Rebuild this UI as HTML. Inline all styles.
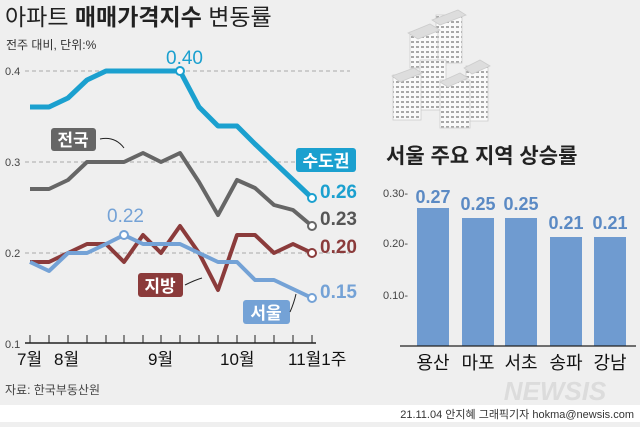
<!DOCTYPE html>
<html><head><meta charset="utf-8"><style>
html,body{margin:0;padding:0;background:#efefef;}
body{width:640px;height:422px;overflow:hidden;font-family:"Liberation Sans","Noto Sans CJK KR",sans-serif;}
</style></head><body>
<svg width="640" height="422" viewBox="0 0 640 422" xmlns="http://www.w3.org/2000/svg" font-family="Liberation Sans, Noto Sans CJK KR, sans-serif">
<defs>
<pattern id="win" width="5" height="5" patternUnits="userSpaceOnUse"><rect width="5" height="5" fill="#fafafa"/><rect x="1" y="1" width="3" height="2" fill="#a8a8a8"/></pattern>
</defs>
<rect width="640" height="422" fill="#efefef"/>
<rect y="405" width="640" height="17" fill="#ffffff"/>
<!-- title -->
<text x="5" y="25" font-size="23" fill="#222"><tspan>아파트 </tspan><tspan font-weight="bold">매매가격지수</tspan><tspan> 변동률</tspan></text>
<text x="6" y="49" font-size="12" fill="#333">전주 대비, 단위:%</text>
<!-- grid -->
<g stroke="#aaa" stroke-dasharray="4,3" stroke-width="1">
<line x1="25" y1="71" x2="350" y2="71"/><line x1="25" y1="162" x2="350" y2="162"/><line x1="25" y1="253" x2="350" y2="253"/>
</g>
<g font-size="11" fill="#444"><text x="5" y="75">0.4</text><text x="5" y="166">0.3</text><text x="5" y="257">0.2</text><text x="5" y="348">0.1</text></g>
<!-- x axis -->
<line x1="25" y1="343" x2="316" y2="343" stroke="#222" stroke-width="1.5"/>
<g stroke="#222" stroke-width="1">
<line x1="30" y1="335" x2="30" y2="343"/><line x1="49" y1="335" x2="49" y2="343"/><line x1="68" y1="335" x2="68" y2="343"/><line x1="87" y1="335" x2="87" y2="343"/><line x1="106" y1="335" x2="106" y2="343"/><line x1="124" y1="335" x2="124" y2="343"/><line x1="143" y1="335" x2="143" y2="343"/><line x1="161" y1="335" x2="161" y2="343"/><line x1="180" y1="335" x2="180" y2="343"/><line x1="199" y1="335" x2="199" y2="343"/><line x1="218" y1="335" x2="218" y2="343"/><line x1="237" y1="335" x2="237" y2="343"/><line x1="255" y1="335" x2="255" y2="343"/><line x1="274" y1="335" x2="274" y2="343"/><line x1="293" y1="335" x2="293" y2="343"/><line x1="312" y1="335" x2="312" y2="343"/>
</g>
<g font-size="17" fill="#111"><text x="17" y="365">7월</text><text x="54" y="365">8월</text><text x="148" y="365">9월</text><text x="220" y="365">10월</text><text x="288" y="365">11월1주</text></g>
<text x="5" y="394" font-size="12" fill="#444">자료: 한국부동산원</text>
<!-- series -->
<polyline fill="none" stroke="#1ba0cf" stroke-width="5" stroke-linejoin="round" points="30,107 49,107 68,98 87,80 106,71 124,71 143,71 161,71 180,71 199,107 218,126 237,126 255,144 274,162 293,180 312,198"/>
<polyline fill="none" stroke="#666" stroke-width="4" stroke-linejoin="round" points="30,189 49,189 68,180 87,162 106,162 124,162 143,153 161,162 180,153 199,182 218,215 237,180 255,188 274,205 293,210 312,226"/>
<polyline fill="none" stroke="#8b3b3b" stroke-width="4" stroke-linejoin="round" points="30,262 49,262 68,253 87,244 106,244 124,262 143,235 161,253 180,226 199,253 218,290 237,235 255,235 274,253 293,244 312,253"/>
<polyline fill="none" stroke="#74a2d6" stroke-width="4" stroke-linejoin="round" points="30,262 49,271 68,253 87,253 106,244 124,235 143,244 161,244 180,244 199,253 218,262 237,262 255,280 274,280 293,289 312,298"/>
<g fill="#fff" stroke-width="2">
<circle cx="180" cy="71" r="4" stroke="#1ba0cf"/><circle cx="312" cy="198" r="4" stroke="#1ba0cf"/>
<circle cx="312" cy="226" r="4" stroke="#666"/><circle cx="312" cy="253" r="4" stroke="#8b3b3b"/>
<circle cx="124" cy="235" r="4" stroke="#74a2d6"/><circle cx="312" cy="298" r="4" stroke="#74a2d6"/>
</g>
<g font-size="19" font-weight="bold">
<text x="166" y="64" fill="#1ba0cf" font-weight="normal">0.40</text>
<text x="320" y="198" fill="#1ba0cf">0.26</text>
<text x="320" y="225" fill="#555">0.23</text>
<text x="320" y="253" fill="#8b3b3b">0.20</text>
<text x="320" y="298" fill="#74a2d6">0.15</text>
<text x="107" y="222" fill="#74a2d6" font-weight="normal">0.22</text>
</g>
<!-- labels -->
<rect x="296" y="148" width="60" height="24" rx="3" fill="#1ba0cf"/><text x="326" y="167" font-size="17" fill="#fff" text-anchor="middle" font-weight="bold">수도권</text>
<rect x="51" y="128" width="45" height="23" rx="3" fill="#666"/><text x="73" y="146" font-size="17" fill="#fff" text-anchor="middle" font-weight="bold">전국</text>
<rect x="138" y="273" width="45" height="24" rx="3" fill="#8b3b3b"/><text x="160" y="292" font-size="17" fill="#fff" text-anchor="middle" font-weight="bold">지방</text>
<rect x="243" y="300" width="47" height="24" rx="3" fill="#74a2d6"/><text x="266" y="319" font-size="17" fill="#fff" text-anchor="middle" font-weight="bold">서울</text>
<g fill="none" stroke="#222" stroke-width="1">
<path d="M100,139 Q115,136 124,148"/><path d="M185,285 Q195,280 202,278"/><path d="M290,312 Q294,303 296,294"/>
</g>
<!-- buildings -->
<g stroke="#ccc" stroke-width="0.8">
<rect x="436" y="15" width="26" height="48" fill="url(#win)"/><polygon points="432,20 458,10 466,15 440,25" fill="#ddd"/>
<rect x="410" y="32" width="28" height="36" fill="url(#win)"/><polygon points="408,33 430,24 440,30 418,39" fill="#ddd"/>
<rect x="420" y="60" width="26" height="50" fill="url(#win)"/>
<rect x="393" y="75" width="28" height="45" fill="url(#win)"/><polygon points="392,76 414,68 422,73 400,82" fill="#ddd"/>
<rect x="466" y="66" width="22" height="55" fill="url(#win)"/><polygon points="464,68 480,60 490,66 472,74" fill="#ddd"/>
<rect x="440" y="80" width="30" height="48" fill="url(#win)"/><polygon points="440,82 460,73 468,78 448,87" fill="#ddd"/>
</g>
<!-- bar chart -->
<text x="386" y="163" font-size="21" font-weight="bold" fill="#222">서울 주요 지역 상승률</text>
<g font-size="11" fill="#444"><text x="383" y="197">0.30-</text><text x="383" y="247">0.20-</text><text x="383" y="299">0.10-</text></g>
<g fill="#6f9bd0">
<rect x="417" y="208" width="32" height="138"/><rect x="462" y="218" width="32" height="128"/><rect x="505" y="218" width="32" height="128"/><rect x="550" y="237" width="32" height="109"/><rect x="594" y="237" width="32" height="109"/>
</g>
<line x1="400" y1="346" x2="636" y2="346" stroke="#222" stroke-width="1.2"/>
<g font-size="18" font-weight="bold" fill="#5b8ac4" text-anchor="middle">
<text x="433" y="203">0.27</text><text x="478" y="210">0.25</text><text x="521" y="210">0.25</text><text x="566" y="229">0.21</text><text x="610" y="229">0.21</text>
</g>
<g font-size="18" fill="#111" text-anchor="middle">
<text x="433" y="369">용산</text><text x="478" y="369">마포</text><text x="521" y="369">서초</text><text x="566" y="369">송파</text><text x="610" y="369">강남</text>
</g>
<text x="555" y="400" font-size="26" font-weight="bold" font-style="italic" fill="#dcdcdc" text-anchor="middle">NEWSIS</text>
<text x="634" y="418" font-size="11" fill="#333" text-anchor="end">21.11.04 안지혜 그래픽기자 hokma@newsis.com</text>
</svg>
</body></html>
